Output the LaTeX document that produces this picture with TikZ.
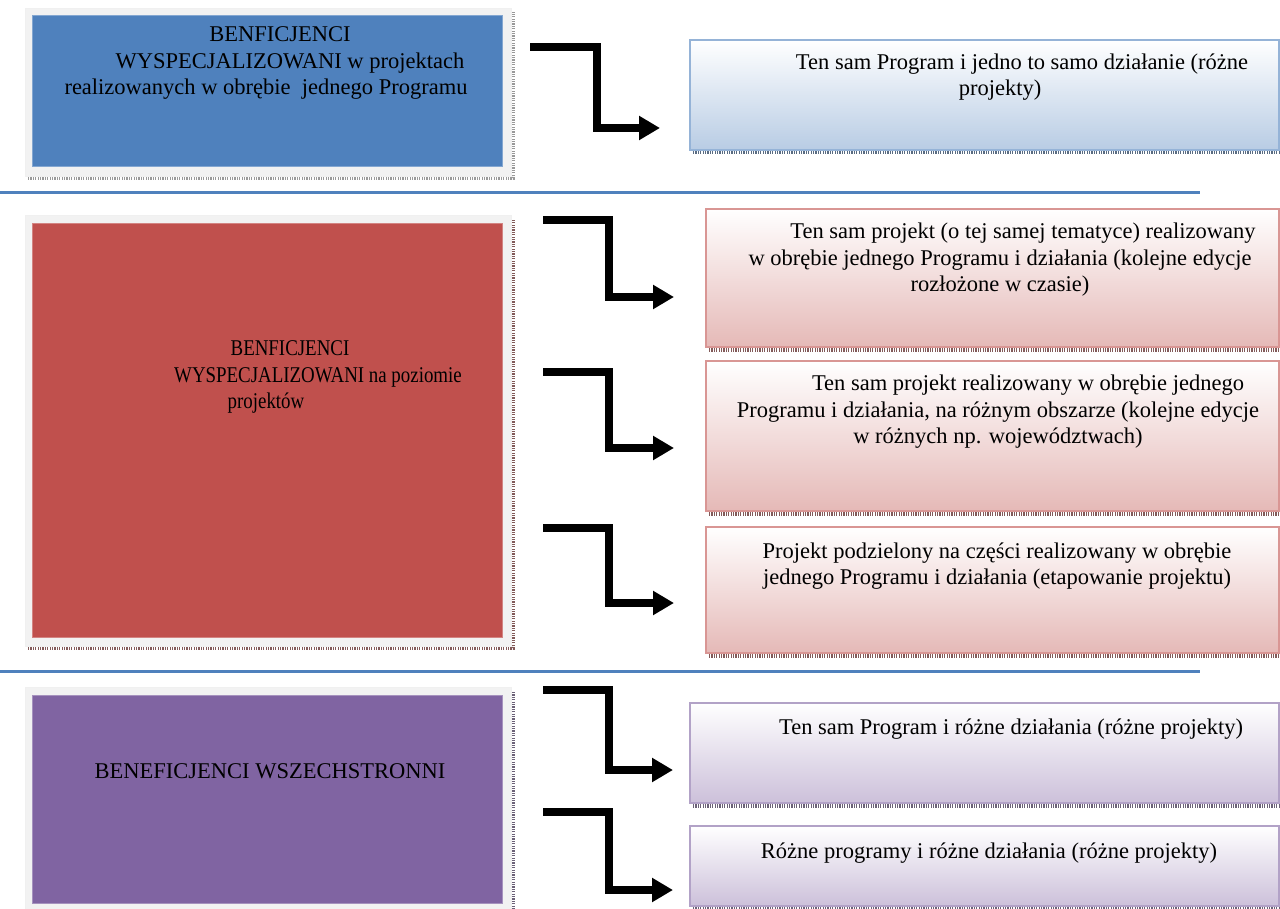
\documentclass[tikz,border=0pt]{standalone}
\usepackage{fontspec}
\setmainfont{Liberation Serif}
\usetikzlibrary{arrows.meta}
\definecolor{cblue}{HTML}{4F81BD}
\definecolor{cred}{HTML}{C0504D}
\definecolor{cpurple}{HTML}{8064A2}
\definecolor{lblue}{HTML}{B8CCE4}
\definecolor{lred}{HTML}{E5B9B7}
\definecolor{lpurple}{HTML}{CCC0DA}
\definecolor{bblue}{HTML}{95B3D7}
\definecolor{bred}{HTML}{D99694}
\definecolor{bpurple}{HTML}{B2A2C7}
\definecolor{framegray}{HTML}{F2F2F2}
\begin{document}
\begin{tikzpicture}[x=1pt,y=-1pt,
  txt/.style={font=\fontsize{22.5}{26.5}\selectfont, align=center, inner sep=0pt, text=black},
  framebox/.style={fill=framegray, draw=black!6, line width=0.8pt, minimum width=486pt, inner sep=0pt},
  colbox/.style={fill=#1, draw=#1!70!white, line width=0.8pt, minimum width=470pt, inner sep=0pt},
  sbox/.style={shading=axis, top color=white, bottom color=l#1, draw=b#1, line width=2.5pt, inner sep=0pt},
  shadline/.style={draw=#1, line width=3.5pt, dash pattern=on 1.2pt off 1.2pt},
  elbowarrow/.style={draw=black, line width=7.5pt, line join=miter, -{Triangle[length=21pt,width=23pt]}},
  sepline/.style={draw=cblue, line width=3pt}
]
\useasboundingbox (0,0) rectangle (1280,909);

% separators
\coordinate (sepA1) at (0,193); \coordinate (sepA2) at (1200,193);
\coordinate (sepB1) at (0,671); \coordinate (sepB2) at (1200,671);
\draw[sepline] (sepA1) -- (sepA2);
\draw[sepline] (sepB1) -- (sepB2);

% ---------- blue section ----------
\draw[shadline=black!40] (28,178) -- (513,178) -- (513,12);
\node[framebox, minimum height=168pt] (fA) at (268,92) {};
\node[colbox=cblue, minimum height=151pt] (bA) at (267,90.5) {};
\node[txt] (tA) at (266,63) {\hspace*{28pt}BENFICJENCI\\\hspace*{48pt}WYSPECJALIZOWANI w projektach\\realizowanych w obrębie\ \ jednego Programu};

\draw[shadline=bblue!60!black] (693,152) -- (1280,152);
\node[sbox=blue, minimum width=589pt, minimum height=110pt] (r1) at (984.5,95) {};
\node[txt] (tr1) at (1000,77) {\hspace*{44pt}Ten sam Program i jedno to samo działanie (różne\\projekty)};

\coordinate (s1) at (530,47); \coordinate (c1) at (597,47); \coordinate (e1) at (660,128);
\draw[elbowarrow] (s1) -- (c1) |- (e1);

% ---------- red section ----------
\draw[shadline=bred!60!black] (28,648) -- (513,648) -- (513,220);
\node[framebox, minimum height=431pt] (fB) at (268,430.5) {};
\node[colbox=cred, minimum height=414pt] (bB) at (267,430) {};
\node[txt] (tB) at (290,377) {\scalebox{0.84}[1]{BENFICJENCI}\\\hspace*{56pt}\scalebox{0.84}[1]{WYSPECJALIZOWANI na poziomie}\\\scalebox{0.84}[1]{projektów}\hspace*{48pt}};

\draw[shadline=bred!60!black] (709,350) -- (1280,350);
\node[sbox=red, minimum width=573pt, minimum height=138pt] (r2) at (992.5,278) {};
\node[txt] (tr2) at (1000,260) {\hspace*{46pt}Ten sam projekt (o tej samej tematyce) realizowany\\w obrębie jednego Programu i działania (kolejne edycje\\rozłożone w czasie)};

\draw[shadline=bred!60!black] (709,514) -- (1280,514);
\node[sbox=red, minimum width=573pt, minimum height=150pt] (r3) at (992.5,436) {};
\node[txt] (tr3) at (998,412) {\hspace*{60pt}Ten sam projekt realizowany w obrębie jednego\\Programu i działania, na różnym obszarze (kolejne edycje\\w różnych np. województwach)};

\draw[shadline=bred!60!black] (709,656) -- (1280,656);
\node[sbox=red, minimum width=573pt, minimum height=126pt] (r4) at (992.5,590) {};
\node[txt] (tr4) at (997,566) {Projekt podzielony na części realizowany w obrębie\\jednego Programu i działania (etapowanie projektu)};

\coordinate (s2) at (543,220); \coordinate (c2) at (609,220); \coordinate (e2) at (674,297);
\draw[elbowarrow] (s2) -- (c2) |- (e2);
\coordinate (s3) at (543,372); \coordinate (c3) at (609,372); \coordinate (e3) at (674,448);
\draw[elbowarrow] (s3) -- (c3) |- (e3);
\coordinate (s4) at (543,528); \coordinate (c4) at (609,528); \coordinate (e4) at (674,603);
\draw[elbowarrow] (s4) -- (c4) |- (e4);

% ---------- purple section ----------
\draw[shadline=bpurple!60!black] (513,692) -- (513,909);
\node[framebox, minimum height=223pt] (fC) at (268,798.5) {};
\node[colbox=cpurple, minimum height=208pt] (bC) at (267,799) {};
\node[txt] (tC) at (270,771) {BENEFICJENCI WSZECHSTRONNI};

\draw[shadline=bpurple!60!black] (693,806) -- (1280,806);
\node[sbox=purple, minimum width=589pt, minimum height=100pt] (p1) at (984.5,753) {};
\node[txt] (tp1) at (1011,729) {Ten sam Program i różne działania (różne projekty)};

\draw[shadline=bpurple!60!black] (693,909) -- (1280,909);
\node[sbox=purple, minimum width=589pt, minimum height=80pt] (p2) at (984.5,866) {};
\node[txt] (tp2) at (989,853) {Różne programy i różne działania (różne projekty)};

\coordinate (s5) at (543,690); \coordinate (c5) at (609,690); \coordinate (e5) at (673,770);
\draw[elbowarrow] (s5) -- (c5) |- (e5);
\coordinate (s6) at (543,812); \coordinate (c6) at (609,812); \coordinate (e6) at (673,890);
\draw[elbowarrow] (s6) -- (c6) |- (e6);
\end{tikzpicture}
\end{document}
